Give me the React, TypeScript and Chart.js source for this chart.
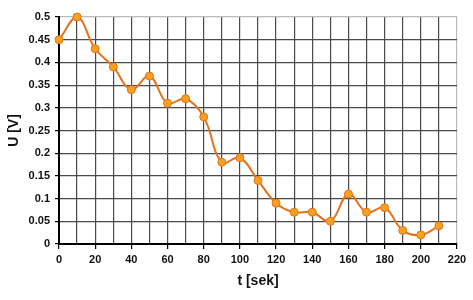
import React, { useEffect, useRef } from "react";
import { Chart, registerables } from "chart.js";

Chart.register(...registerables);

const times = [0, 10, 20, 30, 40, 50, 60, 70, 80, 90, 100, 110, 120, 130, 140, 150, 160, 170, 180, 190, 200, 210];
const voltages = [0.45, 0.5, 0.43, 0.39, 0.34, 0.37, 0.31, 0.32, 0.28, 0.18, 0.19, 0.14, 0.09, 0.07, 0.07, 0.05, 0.11, 0.07, 0.08, 0.03, 0.02, 0.04];
const xTitle = "t [sek]";
const yTitle = "U [V]";

export default function App() {
  const ref = useRef<HTMLCanvasElement | null>(null);
  useEffect(() => {
    if (!ref.current) return;
    const font = "'Liberation Sans', Arial, sans-serif";
    const chart = new Chart(ref.current, {
      type: "line",
      data: {
        datasets: [
          {
            data: times.map((t, i) => ({ x: t, y: voltages[i] })),
            borderColor: "#E4721C",
            borderWidth: 2,
            backgroundColor: "#F7A11F",
            pointBackgroundColor: "#F7A11F",
            pointBorderColor: "#E4721C",
            pointBorderWidth: 1,
            pointRadius: 4,
            tension: 0.4,
            fill: false,
            clip: false,
          } as any,
        ],
      },
      options: {
        animation: false,
        responsive: false,
        maintainAspectRatio: false,
        layout: { padding: { top: 17, right: 16, left: 0, bottom: 0 } },
        plugins: { legend: { display: false }, tooltip: { enabled: false } },
        scales: {
          x: {
            type: "linear",
            min: 0,
            max: 220,
            ticks: {
              stepSize: 10,
              autoSkip: false,
              maxRotation: 0,
              padding: 4,
              color: "#111",
              font: { family: font, size: 11, weight: "bold" },
              callback: (v: any) => (Number(v) % 20 === 0 ? String(v) : ""),
            },
            grid: {
              color: (ctx: any) => (ctx.tick && ctx.tick.value === 220 ? "#bbbbbb" : "#4a4a4a"),
              lineWidth: 1.2,
              tickLength: 5,
              tickColor: (ctx: any) => (ctx.tick && ctx.tick.value % 20 === 0 ? "#000" : "rgba(0,0,0,0)"),
            },
            border: { color: "#000", width: 2 },
            title: {
              display: true,
              text: xTitle,
              color: "#111",
              font: { family: font, size: 14, weight: "bold" },
              padding: { top: 0, bottom: 10 },
            },
            afterFit: (s: any) => {
              s.height = 56;
            },
          },
          y: {
            type: "linear",
            min: 0,
            max: 0.5,
            ticks: {
              stepSize: 0.05,
              padding: 5,
              color: "#111",
              font: { family: font, size: 11, weight: "bold" },
              callback: (v: any) => String(Number(Number(v).toFixed(2))),
            },
            grid: {
              color: (ctx: any) => (ctx.tick && Math.abs(ctx.tick.value - 0.5) < 1e-6 ? "#bbbbbb" : "#4a4a4a"),
              lineWidth: 1.2,
              tickLength: 4,
              tickColor: "#000",
            },
            border: { color: "#000", width: 2 },
            title: {
              display: true,
              text: yTitle,
              color: "#111",
              font: { family: font, size: 14, weight: "bold" },
              padding: { top: 6, bottom: 0 },
            },
            afterFit: (s: any) => {
              s.width = 59;
            },
          },
        },
      },
    });
    return () => chart.destroy();
  }, []);
  return (
    <div style={{ position: "fixed", left: 0, top: 0, width: 473, height: 300, background: "#fff" }}>
      <canvas ref={ref} width={473} height={300} style={{ width: 473, height: 300 }} />
    </div>
  );
}
